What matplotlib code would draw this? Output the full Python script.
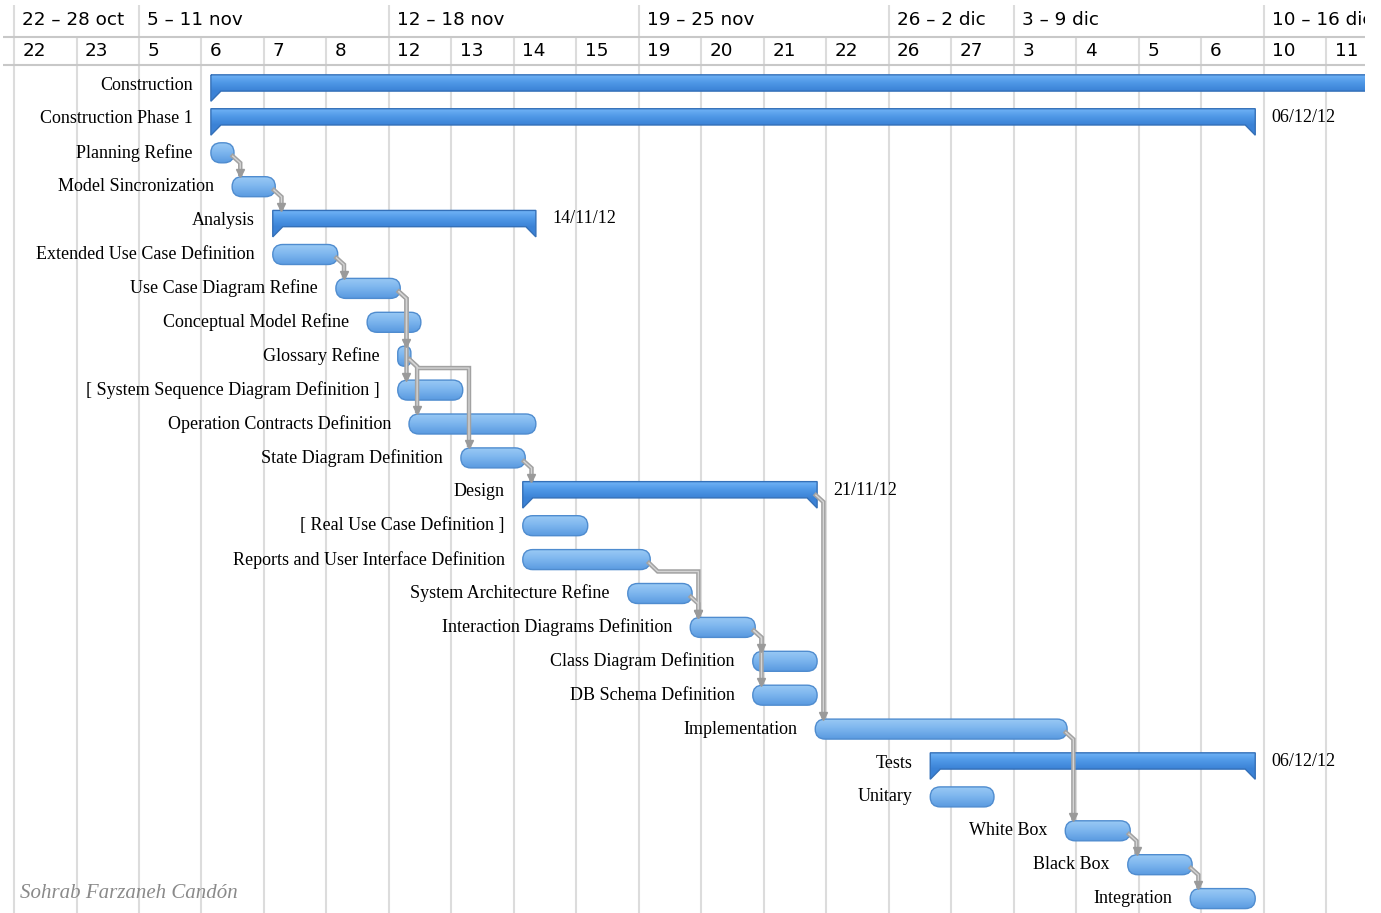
import numpy as np
import matplotlib
matplotlib.use("Agg")
import matplotlib.pyplot as plt
from matplotlib.patches import FancyBboxPatch, Polygon, Rectangle
from matplotlib.colors import LinearSegmentedColormap

# timescale header (compressed calendar, one column per shown day)
week_labels = ["22 – 28 oct", "5 – 11 nov", "12 – 18 nov", "19 – 25 nov",
               "26 – 2 dic", "3 – 9 dic", "10 – 16 dic"]
week_cols = [0, 2, 6, 10, 14, 16, 20]
day_labels = ["22", "23", "5", "6", "7", "8", "12", "13", "14", "15", "19",
              "20", "21", "22", "26", "27", "3", "4", "5", "6", "10", "11"]

# tasks, start/end in day columns
names = ["Construction", "Construction Phase 1", "Planning Refine",
         "Model Sincronization", "Analysis", "Extended Use Case Definition",
         "Use Case Diagram Refine", "Conceptual Model Refine", "Glossary Refine",
         "[ System Sequence Diagram Definition ]", "Operation Contracts Definition",
         "State Diagram Definition", "Design", "[ Real Use Case Definition ]",
         "Reports and User Interface Definition", "System Architecture Refine",
         "Interaction Diagrams Definition", "Class Diagram Definition",
         "DB Schema Definition", "Implementation", "Tests", "Unitary",
         "White Box", "Black Box", "Integration"]
starts = [3.15, 3.15, 3.15, 3.49, 4.14, 4.14, 5.15, 5.65, 6.14, 6.14, 6.32,
          7.15, 8.14, 8.14, 8.14, 9.82, 10.82, 11.82, 11.82, 12.82, 14.66,
          14.66, 16.82, 17.82, 18.82]
ends = [23.0, 19.86, 3.52, 4.18, 8.35, 5.18, 6.18, 6.51, 6.35, 7.18, 8.35,
        8.18, 12.85, 9.18, 10.18, 10.85, 11.86, 12.85, 12.85, 16.85, 19.86,
        15.68, 17.86, 18.85, 19.86]
is_summary = [True, True, False, False, True, False, False, False, False,
              False, False, False, True, False, False, False, False, False,
              False, False, True, False, False, False, False]
end_labels = {"Construction Phase 1": "06/12/12", "Analysis": "14/11/12",
              "Design": "21/11/12", "Tests": "06/12/12"}

deps = [("Planning Refine", "Model Sincronization"),
        ("Model Sincronization", "Analysis"),
        ("Extended Use Case Definition", "Use Case Diagram Refine"),
        ("Use Case Diagram Refine", "Glossary Refine"),
        ("Use Case Diagram Refine", "[ System Sequence Diagram Definition ]"),
        ("Glossary Refine", "Operation Contracts Definition"),
        ("Glossary Refine", "State Diagram Definition"),
        ("State Diagram Definition", "Design"),
        ("Reports and User Interface Definition", "Interaction Diagrams Definition"),
        ("System Architecture Refine", "Interaction Diagrams Definition"),
        ("Interaction Diagrams Definition", "Class Diagram Definition"),
        ("Interaction Diagrams Definition", "DB Schema Definition"),
        ("Design", "Implementation"),
        ("Implementation", "White Box"),
        ("White Box", "Black Box"),
        ("Black Box", "Integration")]

COL_PX = 62.5
ROW_PX = 33.9
W, H = 1381, 913

fig = plt.figure(figsize=(W / 100, H / 100), dpi=100)
ax = fig.add_axes([0, 0, 1365 / W, 1])
ax.axis("off")
xlim = (-14 / COL_PX, (1365 - 14) / COL_PX)
ylim = ((H - 85) / ROW_PX, -85 / ROW_PX)

def py(p):
    # pixel row of the header -> row units
    return (p - 85) / ROW_PX

grid_c = "#dcdcdc"
bottom = (H - 85) / ROW_PX
for i in range(len(day_labels) + 1):
    top = py(5) if i in week_cols else py(37)
    ax.vlines(i, top, bottom, color=grid_c, lw=1.5, zorder=0)
ax.hlines([py(37), py(65)], -0.18, 22, color="#c8c8c8", lw=1.5, zorder=0)

for c, lab in zip(week_cols, week_labels):
    ax.text(c + 0.13, py(20), lab, family="DejaVu Sans", fontsize=13.2,
            va="center", ha="left", clip_on=True)
for i, lab in enumerate(day_labels):
    ax.text(i + 0.13, py(51), lab, family="DejaVu Sans", fontsize=13.2,
            va="center", ha="left", clip_on=True)

serif = ["Liberation Serif", "DejaVu Serif"]
aspect = COL_PX / ROW_PX
row_of = {n: i for i, n in enumerate(names)}

sum_cmap = LinearSegmentedColormap.from_list("s", ["#72b5f7", "#4f98e6", "#3b82d6"])
task_cmap = LinearSegmentedColormap.from_list("t", ["#9ccbf5", "#7cb5ee", "#5a9ae0"])
grad = np.linspace(0, 1, 64).reshape(-1, 1)

def gradient_fill(patch, x0, x1, ytop, ybot, cmap):
    im = ax.imshow(grad, extent=(x0, x1, ybot, ytop), origin="upper",
                   aspect="auto", cmap=cmap, zorder=2, interpolation="bilinear")
    im.set_clip_path(patch)
    im.set_clip_box(ax.bbox)

for i, n in enumerate(names):
    s, e = starts[i], ends[i]
    if is_summary[i]:
        top, bot, tip, w = i - 0.30, i + 0.18, i + 0.48, 0.16
        poly = Polygon([(s, top), (e, top), (e, tip), (e - w, bot),
                        (s + w, bot), (s, tip)], closed=True,
                       facecolor="none", edgecolor="#3470b8", lw=1, zorder=2.2)
        ax.add_patch(poly)
        gradient_fill(poly, s, e, top, bot, sum_cmap)
        coll = ax.fill_between([s, e], bot, tip, color="#3b82d6", lw=0,
                               zorder=1.9)
        coll.set_clip_path(poly)
        coll.set_clip_box(ax.bbox)
    else:
        h = 0.59
        r = min(0.16, (e - s) / 2)
        pill = FancyBboxPatch((s, i - h / 2), e - s, h,
                              boxstyle=f"round,pad=0,rounding_size={r}",
                              mutation_aspect=aspect, facecolor="none",
                              edgecolor="#4f8ccf", lw=1, zorder=2.2)
        ax.add_patch(pill)
        gradient_fill(pill, s, e, i - h / 2, i + h / 2, task_cmap)
    ax.text(s - 0.29, i, n, family=serif, fontsize=13, ha="right", va="center")
    if n in end_labels:
        ax.text(e + 0.26, i - 0.05, end_labels[n], family=serif, fontsize=13,
                ha="left", va="center")

line_c = "#a2a2a2"
for a, b in deps:
    ia, ib = row_of[a], row_of[b]
    xe = ends[ia]
    xv = max(xe + 0.1, starts[ib] + 0.13)
    y_end = ib - 0.30
    if xv > xe + 0.12:
        xs_ = [xe - 0.02, xe + 0.12, xv, xv]
        ys_ = [ia + 0.1, ia + 0.35, ia + 0.35, y_end - 0.08]
    else:
        xs_ = [xe - 0.02, xv, xv]
        ys_ = [ia + 0.1, ia + 0.3, y_end - 0.08]
    ax.plot(xs_, ys_, color=line_c, lw=3.2, solid_joinstyle="miter", zorder=3)
    ax.plot(xs_, ys_, color="#d4d4d4", lw=1, zorder=3.1)
    ax.plot([xv], [y_end - 0.1], marker="v", ms=6, color="#9a9a9a",
            mec="#9a9a9a", zorder=3.2)

ax.set_xlim(*xlim)
ax.set_ylim(*ylim)

# blank strip right of the chart view
fig.add_artist(Rectangle((1365 / W, 0), 1, 1, transform=fig.transFigure,
                         facecolor="white", edgecolor="none", zorder=10))

fig.text(20 / W, 1 - 893 / H, "Sohrab Farzaneh Candón", family=serif,
         style="italic", fontsize=15, color="#8a8a8a", ha="left", va="center")

fig.savefig("out.png", dpi=100, facecolor="white")
